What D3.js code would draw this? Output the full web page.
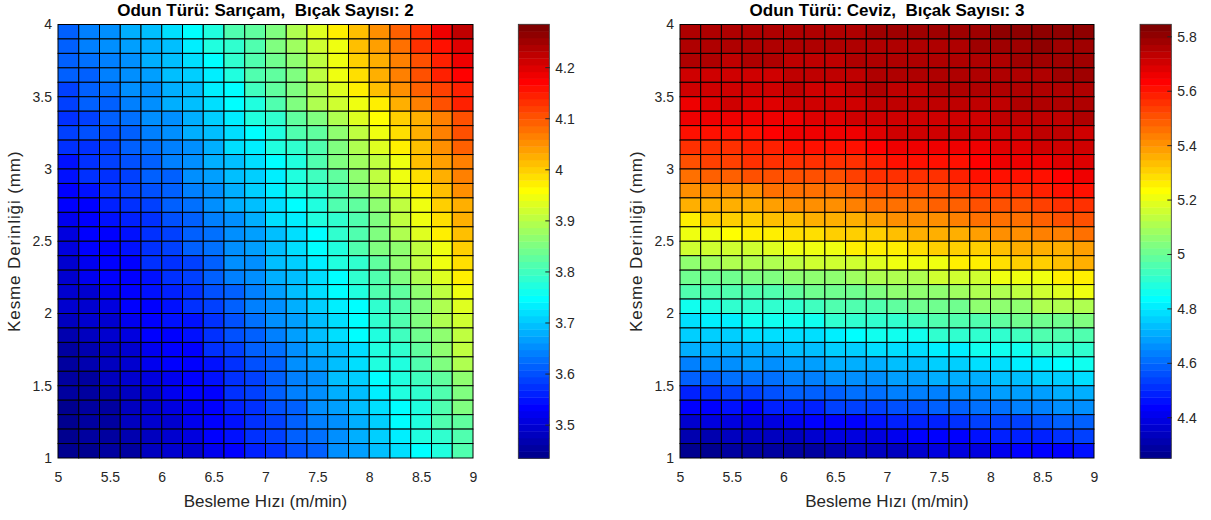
<!DOCTYPE html>
<html lang="tr">
<head>
<meta charset="UTF-8">
<title>Kesme Derinliği / Besleme Hızı yüzeyleri</title>
<script src="https://d3js.org/d3.v7.min.js"></script>
<style>
  body { margin: 0; background: #fff; }
  svg text { font-family: "Liberation Sans", Arial, Helvetica, sans-serif; }
</style>
</head>
<body>
<svg id="chart" width="1211" height="520"></svg>
<script>
// cell left edges (m/min) and lower edges (mm), rows listed top to bottom
const feedRates = [5, 5.2, 5.4, 5.6, 5.8, 6, 6.2, 6.4, 6.6, 6.8, 7, 7.2, 7.4, 7.6, 7.8, 8, 8.2, 8.4, 8.6, 8.8];
const depthRows = [3.9, 3.8, 3.7, 3.6, 3.5, 3.4, 3.3, 3.2, 3.1, 3.0, 2.9, 2.8, 2.7, 2.6, 2.5,
                   2.4, 2.3, 2.2, 2.1, 2.0, 1.9, 1.8, 1.7, 1.6, 1.5, 1.4, 1.3, 1.2, 1.1, 1.0];
const xTicks = [5, 5.5, 6, 6.5, 7, 7.5, 8, 8.5, 9];
const yTicks = [1, 1.5, 2, 2.5, 3, 3.5, 4];

// Sarıçam, 2 bıçak
const sariCamValues = [
  [3.61,3.64,3.65,3.68,3.69,3.72,3.75,3.78,3.81,3.83,3.86,3.89,3.93,3.97,4.01,4.05,4.09,4.13,4.18,4.22],
  [3.62,3.64,3.65,3.67,3.68,3.70,3.73,3.77,3.79,3.82,3.85,3.88,3.92,3.95,4.01,4.04,4.08,4.13,4.16,4.20],
  [3.61,3.63,3.64,3.66,3.68,3.69,3.72,3.75,3.79,3.81,3.84,3.87,3.91,3.95,4.00,4.03,4.07,4.11,4.15,4.18],
  [3.61,3.62,3.64,3.65,3.67,3.69,3.71,3.74,3.78,3.81,3.83,3.86,3.90,3.94,3.99,4.02,4.06,4.10,4.14,4.17],
  [3.59,3.61,3.63,3.65,3.66,3.68,3.70,3.73,3.75,3.80,3.83,3.85,3.89,3.93,3.97,4.01,4.05,4.09,4.12,4.15],
  [3.59,3.61,3.62,3.64,3.65,3.68,3.69,3.72,3.75,3.78,3.82,3.85,3.89,3.92,3.94,3.97,4.03,4.07,4.10,4.14],
  [3.58,3.59,3.61,3.63,3.65,3.66,3.68,3.71,3.73,3.77,3.79,3.83,3.86,3.89,3.93,3.96,4.00,4.03,4.07,4.11],
  [3.59,3.60,3.60,3.61,3.64,3.65,3.68,3.69,3.72,3.75,3.78,3.81,3.83,3.87,3.91,3.94,3.99,4.02,4.06,4.10],
  [3.57,3.58,3.59,3.61,3.63,3.64,3.66,3.68,3.72,3.73,3.77,3.79,3.82,3.86,3.89,3.93,3.97,4.01,4.05,4.09],
  [3.55,3.58,3.59,3.60,3.62,3.64,3.65,3.68,3.70,3.72,3.75,3.78,3.81,3.85,3.88,3.91,3.95,4.01,4.04,4.07],
  [3.55,3.57,3.58,3.59,3.61,3.62,3.65,3.67,3.69,3.71,3.74,3.77,3.80,3.83,3.87,3.90,3.94,3.99,4.03,4.06],
  [3.53,3.55,3.57,3.59,3.60,3.61,3.64,3.66,3.68,3.71,3.73,3.77,3.79,3.81,3.85,3.89,3.93,3.97,4.01,4.05],
  [3.53,3.54,3.56,3.57,3.59,3.61,3.63,3.65,3.68,3.69,3.72,3.75,3.78,3.81,3.83,3.87,3.91,3.95,4.00,4.03],
  [3.52,3.54,3.55,3.56,3.58,3.60,3.62,3.64,3.66,3.68,3.72,3.74,3.77,3.79,3.82,3.86,3.90,3.94,3.99,4.02],
  [3.51,3.53,3.54,3.55,3.57,3.59,3.61,3.63,3.65,3.67,3.70,3.72,3.75,3.79,3.81,3.85,3.89,3.93,3.97,4.01],
  [3.51,3.53,3.54,3.55,3.57,3.59,3.61,3.63,3.65,3.67,3.70,3.72,3.75,3.78,3.81,3.85,3.87,3.91,3.95,4.00],
  [3.50,3.52,3.53,3.54,3.57,3.58,3.59,3.62,3.65,3.65,3.69,3.71,3.73,3.77,3.79,3.83,3.87,3.90,3.94,3.99],
  [3.50,3.52,3.53,3.54,3.55,3.57,3.59,3.61,3.64,3.65,3.68,3.69,3.72,3.75,3.79,3.82,3.85,3.89,3.93,3.97],
  [3.49,3.50,3.52,3.53,3.55,3.56,3.58,3.60,3.62,3.64,3.67,3.69,3.72,3.75,3.78,3.81,3.83,3.87,3.91,3.95],
  [3.49,3.50,3.51,3.53,3.54,3.55,3.57,3.59,3.61,3.64,3.66,3.68,3.71,3.73,3.75,3.79,3.82,3.86,3.89,3.93],
  [3.48,3.49,3.50,3.52,3.54,3.55,3.55,3.58,3.60,3.63,3.65,3.67,3.69,3.72,3.75,3.79,3.81,3.85,3.89,3.92],
  [3.47,3.48,3.49,3.51,3.53,3.54,3.55,3.58,3.60,3.62,3.64,3.67,3.69,3.72,3.75,3.77,3.80,3.84,3.87,3.91],
  [3.46,3.47,3.48,3.50,3.52,3.54,3.54,3.57,3.59,3.61,3.63,3.65,3.68,3.69,3.72,3.77,3.79,3.83,3.87,3.90],
  [3.46,3.47,3.48,3.50,3.52,3.53,3.54,3.55,3.58,3.60,3.62,3.65,3.67,3.69,3.72,3.77,3.78,3.81,3.85,3.89],
  [3.46,3.46,3.48,3.49,3.51,3.52,3.54,3.55,3.57,3.59,3.61,3.64,3.66,3.69,3.71,3.75,3.78,3.80,3.83,3.87],
  [3.45,3.46,3.47,3.48,3.50,3.52,3.53,3.54,3.57,3.59,3.61,3.64,3.65,3.68,3.70,3.73,3.77,3.79,3.82,3.86],
  [3.44,3.46,3.46,3.48,3.50,3.51,3.52,3.54,3.56,3.58,3.60,3.62,3.65,3.67,3.69,3.72,3.75,3.78,3.81,3.85],
  [3.44,3.45,3.46,3.48,3.49,3.50,3.52,3.53,3.55,3.57,3.59,3.61,3.64,3.66,3.68,3.71,3.75,3.78,3.81,3.83],
  [3.44,3.45,3.46,3.47,3.48,3.50,3.51,3.53,3.55,3.57,3.59,3.61,3.63,3.65,3.68,3.71,3.73,3.77,3.79,3.82],
  [3.44,3.44,3.45,3.46,3.48,3.49,3.50,3.52,3.54,3.56,3.58,3.60,3.62,3.65,3.67,3.70,3.72,3.75,3.78,3.81]
];

// Ceviz, 3 bıçak
const cevizValues = [
  [5.77,5.77,5.76,5.77,5.76,5.77,5.77,5.76,5.77,5.78,5.78,5.78,5.79,5.79,5.79,5.80,5.82,5.82,5.81,5.81],
  [5.75,5.76,5.75,5.75,5.77,5.76,5.77,5.76,5.76,5.76,5.77,5.77,5.77,5.77,5.78,5.79,5.79,5.80,5.79,5.79],
  [5.75,5.75,5.74,5.75,5.75,5.74,5.74,5.74,5.75,5.75,5.76,5.76,5.76,5.76,5.76,5.76,5.78,5.78,5.79,5.79],
  [5.72,5.72,5.72,5.72,5.71,5.74,5.73,5.73,5.73,5.75,5.75,5.75,5.75,5.76,5.76,5.77,5.77,5.77,5.78,5.78],
  [5.71,5.71,5.72,5.71,5.71,5.73,5.72,5.72,5.73,5.75,5.74,5.74,5.75,5.75,5.75,5.75,5.76,5.77,5.76,5.77],
  [5.67,5.68,5.70,5.69,5.69,5.71,5.71,5.71,5.71,5.73,5.73,5.73,5.73,5.74,5.73,5.74,5.75,5.76,5.75,5.76],
  [5.65,5.65,5.65,5.65,5.67,5.67,5.68,5.69,5.70,5.71,5.71,5.71,5.72,5.72,5.72,5.73,5.73,5.73,5.74,5.75],
  [5.60,5.60,5.62,5.62,5.63,5.66,5.65,5.66,5.65,5.68,5.70,5.70,5.70,5.71,5.71,5.71,5.71,5.73,5.73,5.72],
  [5.55,5.57,5.57,5.59,5.59,5.60,5.60,5.61,5.62,5.63,5.65,5.65,5.65,5.65,5.67,5.68,5.68,5.71,5.71,5.71],
  [5.51,5.53,5.53,5.55,5.55,5.56,5.56,5.57,5.57,5.59,5.60,5.61,5.62,5.62,5.63,5.65,5.65,5.65,5.68,5.68],
  [5.46,5.48,5.48,5.50,5.51,5.51,5.52,5.52,5.53,5.55,5.56,5.57,5.57,5.59,5.60,5.61,5.61,5.62,5.63,5.65],
  [5.40,5.41,5.42,5.42,5.45,5.46,5.46,5.47,5.48,5.50,5.51,5.52,5.52,5.53,5.55,5.56,5.57,5.59,5.60,5.61],
  [5.35,5.36,5.37,5.37,5.39,5.40,5.41,5.42,5.44,5.45,5.46,5.47,5.48,5.48,5.50,5.51,5.52,5.53,5.55,5.56],
  [5.27,5.30,5.31,5.32,5.34,5.34,5.35,5.36,5.37,5.39,5.40,5.41,5.42,5.44,5.45,5.46,5.47,5.48,5.50,5.51],
  [5.22,5.22,5.24,5.25,5.25,5.28,5.28,5.30,5.31,5.32,5.34,5.35,5.36,5.37,5.39,5.40,5.41,5.44,5.44,5.46],
  [5.16,5.16,5.17,5.17,5.19,5.20,5.21,5.22,5.25,5.25,5.27,5.28,5.30,5.31,5.32,5.34,5.35,5.36,5.37,5.39],
  [5.07,5.09,5.10,5.11,5.12,5.14,5.15,5.16,5.17,5.19,5.20,5.21,5.22,5.25,5.25,5.28,5.30,5.32,5.34,5.35],
  [5.00,5.01,5.02,5.04,5.04,5.05,5.06,5.07,5.09,5.10,5.11,5.12,5.15,5.16,5.17,5.20,5.21,5.22,5.25,5.25],
  [4.95,4.95,4.96,4.97,4.97,4.99,5.00,5.01,5.02,5.04,5.05,5.06,5.07,5.09,5.10,5.12,5.14,5.16,5.19,5.20],
  [4.87,4.89,4.90,4.90,4.91,4.92,4.94,4.95,4.96,4.97,4.99,5.00,5.01,5.02,5.05,5.06,5.07,5.10,5.11,5.12],
  [4.79,4.80,4.81,4.85,4.85,4.87,4.87,4.90,4.91,4.92,4.92,4.94,4.95,4.96,4.97,4.99,5.00,5.01,5.02,5.04],
  [4.75,4.75,4.76,4.78,4.78,4.79,4.79,4.81,4.83,4.85,4.87,4.87,4.90,4.90,4.91,4.92,4.94,4.95,4.96,4.97],
  [4.71,4.70,4.71,4.71,4.71,4.73,4.74,4.75,4.76,4.78,4.79,4.79,4.80,4.81,4.85,4.85,4.87,4.90,4.91,4.92],
  [4.63,4.65,4.66,4.68,4.66,4.69,4.69,4.70,4.71,4.71,4.73,4.74,4.75,4.76,4.78,4.79,4.80,4.81,4.83,4.85],
  [4.58,4.59,4.60,4.61,4.61,4.63,4.64,4.65,4.66,4.66,4.68,4.69,4.70,4.70,4.71,4.73,4.74,4.75,4.76,4.78],
  [4.49,4.51,4.54,4.55,4.56,4.58,4.58,4.59,4.60,4.61,4.63,4.63,4.64,4.65,4.66,4.68,4.68,4.69,4.70,4.71],
  [4.43,4.45,4.46,4.45,4.48,4.49,4.50,4.53,4.54,4.55,4.56,4.56,4.58,4.59,4.60,4.61,4.63,4.64,4.65,4.66],
  [4.36,4.38,4.39,4.40,4.40,4.42,4.43,4.44,4.45,4.46,4.48,4.49,4.50,4.51,4.53,4.54,4.55,4.56,4.58,4.59],
  [4.31,4.31,4.33,4.34,4.34,4.35,4.36,4.38,4.39,4.40,4.42,4.43,4.44,4.45,4.46,4.48,4.49,4.50,4.51,4.53],
  [4.26,4.25,4.28,4.29,4.29,4.30,4.30,4.31,4.33,4.34,4.35,4.36,4.38,4.39,4.40,4.42,4.43,4.44,4.45,4.46]
];

// colour limits
const sariCamColorRange = [3.435, 4.285];
const cevizColorRange = [4.251, 5.846];
const sariCamColorTicks = [3.5, 3.6, 3.7, 3.8, 3.9, 4, 4.1, 4.2];
const cevizColorTicks = [4.4, 4.6, 4.8, 5, 5.2, 5.4, 5.6, 5.8];

const titles = ["Odun Türü: Sarıçam,  Bıçak Sayısı: 2", "Odun Türü: Ceviz,  Bıçak Sayısı: 3"];
const xLabel = "Besleme Hızı (m/min)";
const yLabel = "Kesme Derinliği (mm)";

const feedStep = 0.2, depthStep = 0.1;
const textColor = "#262626";
const plotTop = 24.5, plotBottom = 458;

// MATLAB jet(64), i = 1..64
function jet64(i) {
    const r = i <= 24 ? 0 : i <= 40 ? (i - 24) / 16 : i <= 56 ? 1 : (72 - i) / 16;
    const g = i <= 8 ? 0 : i <= 24 ? (i - 8) / 16 : i <= 40 ? 1 : i <= 55 ? (56 - i) / 16 : 0;
    const b = i <= 7 ? (8 + i) / 16 : i <= 24 ? 1 : i <= 39 ? (40 - i) / 16 : 0;
    return d3.rgb(r * 255, g * 255, b * 255).formatHex();
}

function colorOf(v, range) {
    let i = Math.floor((v - range[0]) / (range[1] - range[0]) * 64) + 1;
    i = Math.max(1, Math.min(64, i));
    return jet64(i);
}

const panels = [
    { left: 58, right: 473, cbLeft: 518.3, cbRight: 549.3, values: sariCamValues,
      range: sariCamColorRange, cbTicks: sariCamColorTicks, title: titles[0] },
    { left: 680, right: 1094, cbLeft: 1140, cbRight: 1171.3, values: cevizValues,
      range: cevizColorRange, cbTicks: cevizColorTicks, title: titles[1] }
];

const svg = d3.select("#chart");

function styleAxis(g, size) {
    g.attr("font-size", size)
        .attr("font-family", "'Liberation Sans', Arial, sans-serif");
    g.select(".domain").remove();
    g.selectAll("text").attr("fill", textColor);
}

panels.forEach(p => {
    const x = d3.scaleLinear().domain([5, 9]).range([p.left, p.right]);
    const y = d3.scaleLinear().domain([1, 4]).range([plotBottom, plotTop]);

    const cells = [];
    p.values.forEach((row, ri) => {
        row.forEach((v, ci) => {
            cells.push({ feed: feedRates[ci], depth: depthRows[ri], v: v });
        });
    });

    // surface cells
    svg.append("g")
        .selectAll("rect")
        .data(cells)
        .enter().append("rect")
        .attr("x", d => x(d.feed))
        .attr("y", d => y(d.depth + depthStep))
        .attr("width", d => x(d.feed + feedStep) - x(d.feed))
        .attr("height", d => y(d.depth) - y(d.depth + depthStep))
        .attr("fill", d => colorOf(d.v, p.range))
        .attr("stroke", "#000")
        .attr("stroke-width", 1);

    // X-axis
    const gx = svg.append("g")
        .attr("transform", "translate(0," + plotBottom + ")")
        .call(d3.axisBottom(x).tickValues(xTicks).tickSize(0).tickPadding(14).tickFormat(d => String(d)));
    styleAxis(gx, 14);

    // Y-axis
    const gy = svg.append("g")
        .attr("transform", "translate(" + p.left + ",0)")
        .call(d3.axisLeft(y).tickValues(yTicks).tickSize(0).tickPadding(6).tickFormat(d => String(d)));
    styleAxis(gy, 14);

    // title
    svg.append("text")
        .attr("x", (p.left + p.right) / 2)
        .attr("y", 16)
        .attr("text-anchor", "middle")
        .attr("font-size", 17)
        .attr("font-weight", "bold")
        .style("white-space", "pre")
        .attr("fill", "#000")
        .text(p.title);

    // X-axis title
    svg.append("text")
        .attr("x", (p.left + p.right) / 2)
        .attr("y", 506.5)
        .attr("text-anchor", "middle")
        .attr("font-size", 17)
        .attr("fill", textColor)
        .text(xLabel);

    // Y-axis title
    svg.append("text")
        .attr("transform", "translate(" + (p.left - 38.5) + "," + ((plotTop + plotBottom) / 2) + ") rotate(-90)")
        .attr("text-anchor", "middle")
        .attr("font-size", 17)
        .attr("letter-spacing", 0.9)
        .attr("fill", textColor)
        .text(yLabel);

    // colorbar
    const cy = d3.scaleLinear().domain(p.range).range([plotBottom + 0.3, plotTop - 0.2]);
    const step = (p.range[1] - p.range[0]) / 64;
    const bands = d3.range(64).map(i => p.range[0] + i * step);
    svg.append("g")
        .selectAll("rect")
        .data(bands)
        .enter().append("rect")
        .attr("x", p.cbLeft)
        .attr("width", p.cbRight - p.cbLeft)
        .attr("y", d => cy(d + step))
        .attr("height", d => cy(d) - cy(d + step) + 0.4)
        .attr("fill", d => colorOf(d + step / 2, p.range));

    svg.append("rect")
        .attr("x", p.cbLeft)
        .attr("y", cy(p.range[1]))
        .attr("width", p.cbRight - p.cbLeft)
        .attr("height", cy(p.range[0]) - cy(p.range[1]))
        .attr("fill", "none")
        .attr("stroke", "#333")
        .attr("stroke-width", 0.8);

    svg.append("g")
        .selectAll("line")
        .data(p.cbTicks)
        .enter().append("line")
        .attr("x1", p.cbRight - 4)
        .attr("x2", p.cbRight + 0.5)
        .attr("y1", d => cy(d))
        .attr("y2", d => cy(d))
        .attr("stroke", "#262626")
        .attr("stroke-width", 1);

    const gc = svg.append("g")
        .attr("transform", "translate(" + p.cbRight + ",0)")
        .call(d3.axisRight(cy).tickValues(p.cbTicks).tickSize(0).tickPadding(6).tickFormat(d => String(d)));
    styleAxis(gc, 14);
});
</script>
</body>
</html>
